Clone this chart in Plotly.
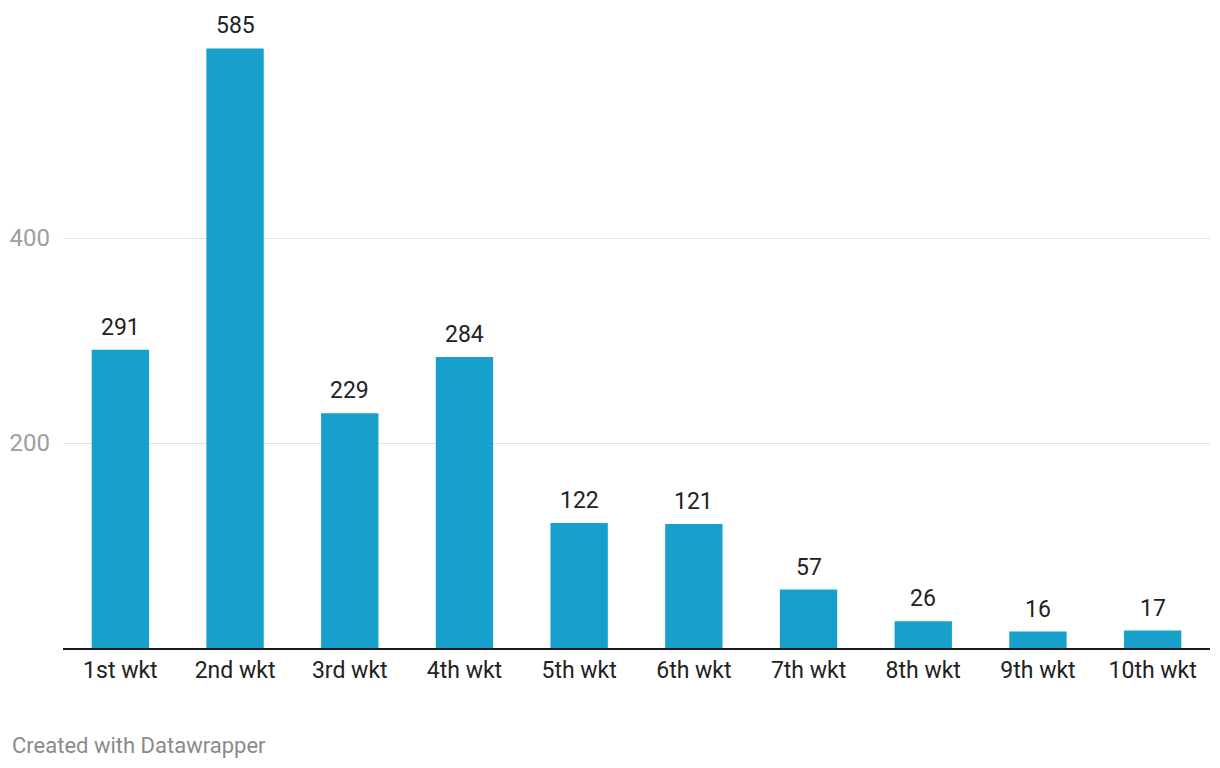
import plotly.graph_objects as go

categories = ["1st wkt", "2nd wkt", "3rd wkt", "4th wkt", "5th wkt",
              "6th wkt", "7th wkt", "8th wkt", "9th wkt", "10th wkt"]
values = [291, 585, 229, 284, 122, 121, 57, 26, 16, 17]
y_ticks = [200, 400]

fig = go.Figure()
fig.add_trace(go.Bar(
    x=categories, y=values,
    marker=dict(color="#18a0cd", line=dict(width=0)),
    hoverinfo="x+y",
))

for c, v in zip(categories, values):
    fig.add_annotation(x=c, y=v, text=str(v), showarrow=False,
                       yanchor="bottom", yshift=7,
                       font=dict(family="Roboto", size=23, color="#222222"))

fig.add_annotation(xref="paper", yref="paper", x=-53/1147, y=-97/615,
                   xanchor="left", yanchor="middle",
                   text="Created with Datawrapper", showarrow=False,
                   font=dict(family="Roboto", size=22, color="#8a8a8a"))

fig.update_layout(
    width=1212, height=760,
    margin=dict(l=55, r=10, t=25, b=120, autoexpand=False),
    paper_bgcolor="white", plot_bgcolor="white",
    bargap=0.5,
    showlegend=False,
    font=dict(family="Roboto"),
    xaxis=dict(showline=True, linecolor="#1a1a1a", linewidth=2,
               showgrid=False, ticks="", fixedrange=True, automargin=False,
               tickfont=dict(family="Roboto", size=23, color="#222222")),
    yaxis=dict(range=[0, 600], tickvals=y_ticks, showgrid=True,
               gridcolor="#e2e2e2", gridwidth=1, zeroline=False,
               showline=False, ticks="", ticklabelstandoff=12, automargin=False,
               tickfont=dict(family="Roboto", size=24, color="#9e9e9e")),
)

fig.write_html("out.html")
